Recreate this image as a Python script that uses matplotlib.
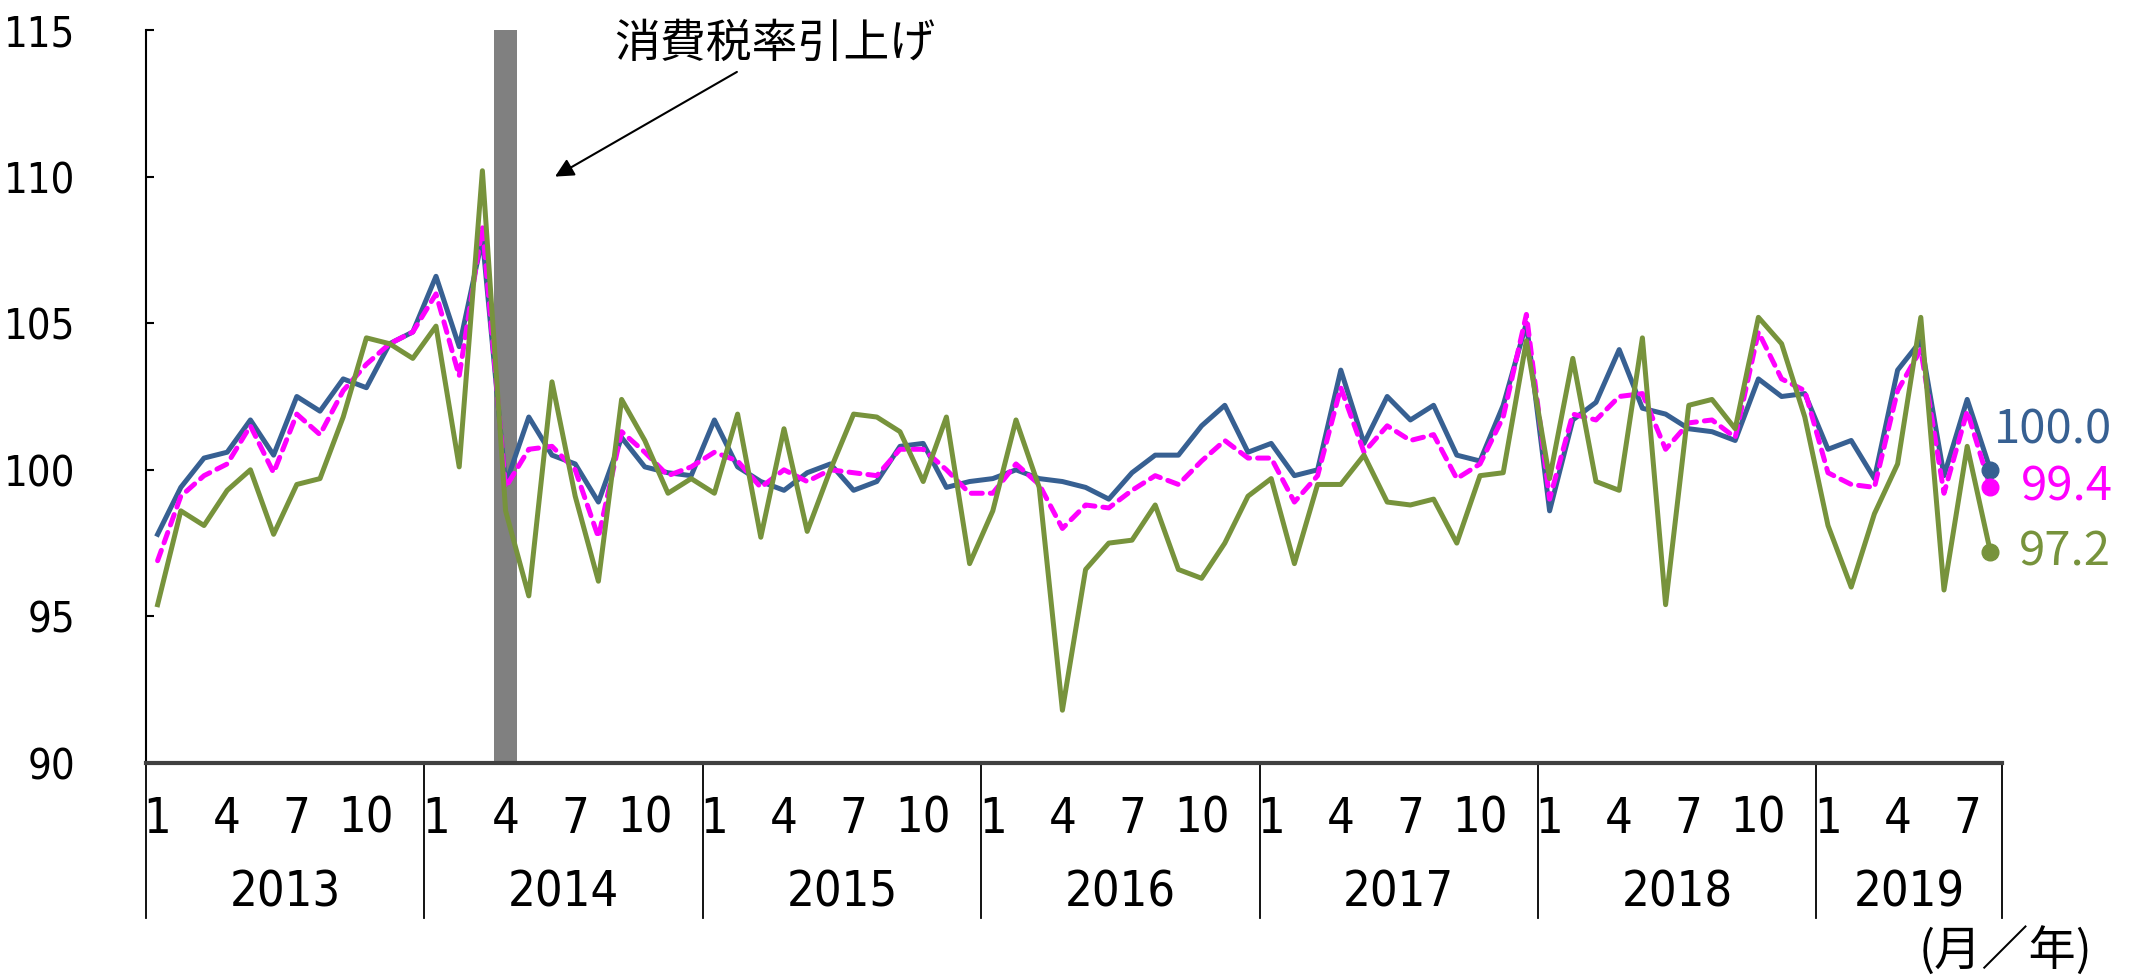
import matplotlib
matplotlib.use("Agg")
import matplotlib.pyplot as plt
import matplotlib.transforms as mtransforms
from matplotlib import font_manager
import numpy as np

years = ["2013", "2014", "2015", "2016", "2017", "2018", "2019"]
months_per_year = [12, 12, 12, 12, 12, 12, 8]
month_tick_labels = ["1", "4", "7", "10"]

blue_vals = [
    97.8, 99.4, 100.4, 100.6, 101.7, 100.5, 102.5, 102.0, 103.1, 102.8, 104.3, 104.7,
    106.6, 104.2, 107.9, 99.5, 101.8, 100.5, 100.2, 98.9, 101.1, 100.1, 99.9, 99.8,
    101.7, 100.1, 99.6, 99.3, 99.9, 100.2, 99.3, 99.6, 100.8, 100.9, 99.4, 99.6,
    99.7, 100.0, 99.7, 99.6, 99.4, 99.0, 99.9, 100.5, 100.5, 101.5, 102.2, 100.6,
    100.9, 99.8, 100.0, 103.4, 100.9, 102.5, 101.7, 102.2, 100.5, 100.3, 102.2, 105.0,
    98.6, 101.7, 102.3, 104.1, 102.1, 101.9, 101.4, 101.3, 101.0, 103.1, 102.5, 102.6,
    100.7, 101.0, 99.7, 103.4, 104.4, 99.8, 102.4, 100.0,
]
magenta_vals = [
    96.9, 99.1, 99.8, 100.2, 101.5, 99.9, 101.9, 101.2, 102.7, 103.6, 104.3, 104.7,
    106.0, 103.2, 108.3, 99.4, 100.7, 100.8, 100.0, 97.7, 101.3, 100.6, 99.8, 100.1,
    100.6, 100.3, 99.4, 100.0, 99.6, 100.0, 99.9, 99.8, 100.7, 100.7, 100.0, 99.2,
    99.2, 100.2, 99.5, 98.0, 98.8, 98.7, 99.3, 99.8, 99.5, 100.3, 101.0, 100.4,
    100.4, 98.9, 99.8, 102.8, 100.6, 101.5, 101.0, 101.2, 99.7, 100.2, 101.8, 105.3,
    99.0, 101.9, 101.7, 102.5, 102.6, 100.7, 101.6, 101.7, 101.1, 104.7, 103.1, 102.7,
    99.9, 99.5, 99.4, 102.7, 104.1, 99.2, 102.0, 99.4,
]
green_vals = [
    95.4, 98.6, 98.1, 99.3, 100.0, 97.8, 99.5, 99.7, 101.8, 104.5, 104.3, 103.8,
    104.9, 100.1, 110.2, 98.6, 95.7, 103.0, 99.1, 96.2, 102.4, 101.0, 99.2, 99.7,
    99.2, 101.9, 97.7, 101.4, 97.9, 100.0, 101.9, 101.8, 101.3, 99.6, 101.8, 96.8,
    98.6, 101.7, 99.4, 91.8, 96.6, 97.5, 97.6, 98.8, 96.6, 96.3, 97.5, 99.1,
    99.7, 96.8, 99.5, 99.5, 100.5, 98.9, 98.8, 99.0, 97.5, 99.8, 99.9, 104.4,
    99.7, 103.8, 99.6, 99.3, 104.5, 95.4, 102.2, 102.4, 101.4, 105.2, 104.3, 101.8,
    98.1, 96.0, 98.5, 100.2, 105.2, 95.9, 100.8, 97.2,
]
end_labels = ["100.0", "99.4", "97.2"]
tax_hike_index = 15  # April 2014
annotation_text = "消費税率引上げ"
unit_text = "(月／年)"

c_blue = "#376092"
c_mag = "#FF00FF"
c_green = "#77933C"

# prefer a condensed sans for the numeric labels if one is installed
cond = [f for f in font_manager.fontManager.ttflist
        if f.stretch in ("condensed", "semi-condensed", 600, 500) or "Narrow" in f.name or "Condensed" in f.name]
cond_names = [f.name for f in cond if "Mono" not in f.name and "Serif" not in f.name]
if cond_names:
    tick_font = [cond_names[0], "DejaVu Sans"]
    tick_stretch = "condensed"
    ytick_size = 30
    ypad = 51
else:
    tick_font = ["Liberation Sans", "DejaVu Sans"]
    tick_stretch = "normal"
    ytick_size = 28
    ypad = 51
jp_font = ["Noto Sans CJK JP", "DejaVu Sans"]

fig = plt.figure(figsize=(21.36, 9.76), dpi=100)
ax = fig.add_axes([146 / 2136, 1 - 763 / 976, (2002 - 146) / 2136, (763 - 30) / 976])

n = len(blue_vals)
x = np.arange(n)

ax.axvspan(tax_hike_index - 0.5, tax_hike_index + 0.5, ymin=0, ymax=1, color="#808080", lw=0, zorder=1)

ax.plot(x, blue_vals, color=c_blue, lw=3.6, zorder=3)
ax.plot(x, magenta_vals, color=c_mag, lw=3.6, zorder=4, dashes=(2.2, 1.6), dash_capstyle="round")
ax.plot(x, green_vals, color=c_green, lw=3.6, zorder=5)

for vals, col in [(blue_vals, c_blue), (magenta_vals, c_mag), (green_vals, c_green)]:
    ax.plot([x[-1]], [vals[-1]], "o", color=col, ms=12, zorder=6)

offsets = [(3, 40), (30, 0), (28, 0)]
for vals, col, lab, off in zip([blue_vals, magenta_vals, green_vals], [c_blue, c_mag, c_green], end_labels, offsets):
    ax.annotate(lab, (x[-1], vals[-1]), xytext=off, textcoords="offset pixels",
                color=col, fontsize=34, family=jp_font, va="center", ha="left", annotation_clip=False)

ax.set_xlim(-0.5, n - 0.5)
ax.set_ylim(90, 115)
ax.set_yticks([90, 95, 100, 105, 110, 115])
ax.tick_params(axis="y", direction="in", length=6, width=1.5, pad=ypad, labelsize=ytick_size)
for t in ax.get_yticklabels():
    t.set_family(tick_font)
    t.set_stretch(tick_stretch)

# month ticks
tick_pos, tick_lab = [], []
start = 0
for yr, nm in zip(years, months_per_year):
    for m in month_tick_labels:
        mi = int(m) - 1
        if mi < nm:
            tick_pos.append(start + mi)
            tick_lab.append(m)
    start += nm
ax.set_xticks(tick_pos)
ax.set_xticklabels(tick_lab)
ax.tick_params(axis="x", length=0, pad=23, labelsize=35)
for t in ax.get_xticklabels():
    t.set_family(tick_font)
    t.set_stretch(tick_stretch)

# year labels and separators
trans = mtransforms.blended_transform_factory(ax.transData, ax.transAxes)
start = 0
bounds = [-0.5]
for yr, nm in zip(years, months_per_year):
    ax.text(start + nm / 2 - 0.5, -0.176, yr, transform=trans, ha="center", va="center",
            fontsize=35, family=tick_font, stretch=tick_stretch)
    start += nm
    bounds.append(start - 0.5)
for b in bounds:
    ax.plot([b, b], [0, -0.2115], transform=trans, color="black", lw=1.3, clip_on=False)

for s in ["top", "right"]:
    ax.spines[s].set_visible(False)
ax.spines["left"].set_linewidth(1.5)
ax.spines["bottom"].set_linewidth(3)
ax.spines["bottom"].set_color("#404040")

ax.annotate("", xy=(17.13, 110.0), xytext=(24.97, 113.57),
            arrowprops=dict(arrowstyle="-|>", color="black", lw=1.5, mutation_scale=28,
                            shrinkA=0, shrinkB=0), annotation_clip=False)
ax.text(26.6, 114.55, annotation_text, ha="center", va="center", fontsize=33,
        family=jp_font, clip_on=False)

fig.text(2092 / 2136, 1 - 952 / 976, unit_text, ha="right", va="center", fontsize=34, family=jp_font)

fig.savefig("out.png", dpi=100)
